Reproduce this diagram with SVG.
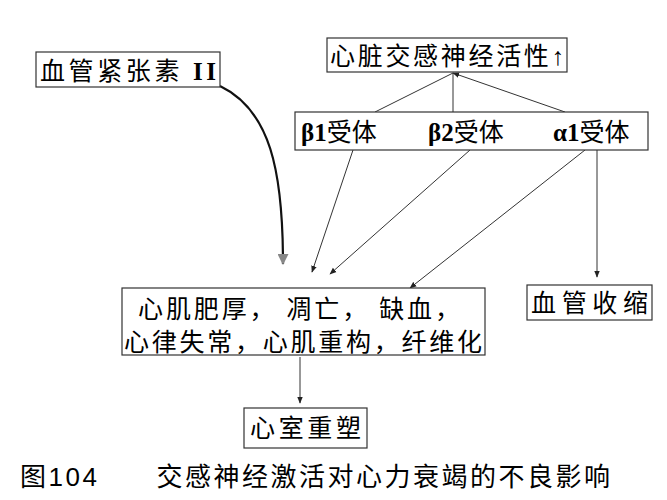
<svg xmlns="http://www.w3.org/2000/svg" width="667" height="500" viewBox="0 0 667 500">
<style>
.b{fill:#fff;stroke:#333;stroke-width:1.2}
.t{font-family:"Liberation Serif","Noto Sans CJK SC",serif;font-size:25px;fill:#000}
.c{stroke:#333;stroke-width:1;fill:none}
</style>
<defs>
<marker id="a" viewBox="0 0 10 10" refX="9" refY="5" markerWidth="7" markerHeight="7" orient="auto"><path d="M0,1L10,5L0,9z" fill="#222"/></marker>
<marker id="g" viewBox="0 0 10 10" refX="9" refY="5" markerWidth="5" markerHeight="5" orient="auto"><path d="M0,0L10,5L0,10z" fill="#888"/></marker>
</defs>
<rect width="667" height="500" fill="#fff"/>
<g id="connectors">
<path class="c" d="M375,112L453,73M453,112L453,73M565,112L453,73" marker-end="url(#a)"/>
<path class="c" d="M353,150L312,272" marker-end="url(#a)"/>
<path class="c" d="M470,150L330,274" marker-end="url(#a)"/>
<path class="c" d="M585,150L410,288" marker-end="url(#a)"/>
<path class="c" d="M597,150L597,277" marker-end="url(#a)"/>
<path class="c" d="M300,357L300,403" marker-end="url(#a)"/>
<path d="M220,86C270,110 283,170 283,264" stroke="#111" stroke-width="2.2" fill="none" marker-end="url(#g)"/>
</g>
<g id="n1"><rect class="b" x="36" y="52" width="184" height="35"/><text class="t" x="40" y="80" textLength="176">血管紧张素 <tspan font-weight="bold">II</tspan></text></g>
<g id="n2"><rect class="b" x="327" y="38" width="240" height="34"/><text class="t" x="330" y="65" textLength="234">心脏交感神经活性↑</text></g>
<g id="n3"><rect class="b" x="295" y="112" width="353" height="38"/><text class="t" x="301" y="141"><tspan font-weight="bold">β1</tspan>受体</text><text class="t" x="428" y="141"><tspan font-weight="bold">β2</tspan>受体</text><text class="t" x="553" y="141"><tspan font-weight="bold">α1</tspan>受体</text></g>
<g id="n4"><rect class="b" x="122" y="288" width="363" height="67"/><text class="t" x="138" y="318" textLength="322">心肌肥厚，  凋亡，  缺血，</text><text class="t" x="124" y="351" textLength="358">心律失常，心肌重构，纤维化</text></g>
<g id="n5"><rect class="b" x="527" y="285" width="125" height="35"/><text class="t" x="531" y="312" textLength="117">血管收缩</text></g>
<g id="n6"><rect class="b" x="244" y="408" width="123" height="40"/><text class="t" x="250" y="437" textLength="111">心室重塑</text></g>
<text x="20" y="486" font-family="Liberation Sans,Noto Sans CJK SC,sans-serif" font-size="26" textLength="590">图104　　交感神经激活对心力衰竭的不良影响</text>
</svg>
